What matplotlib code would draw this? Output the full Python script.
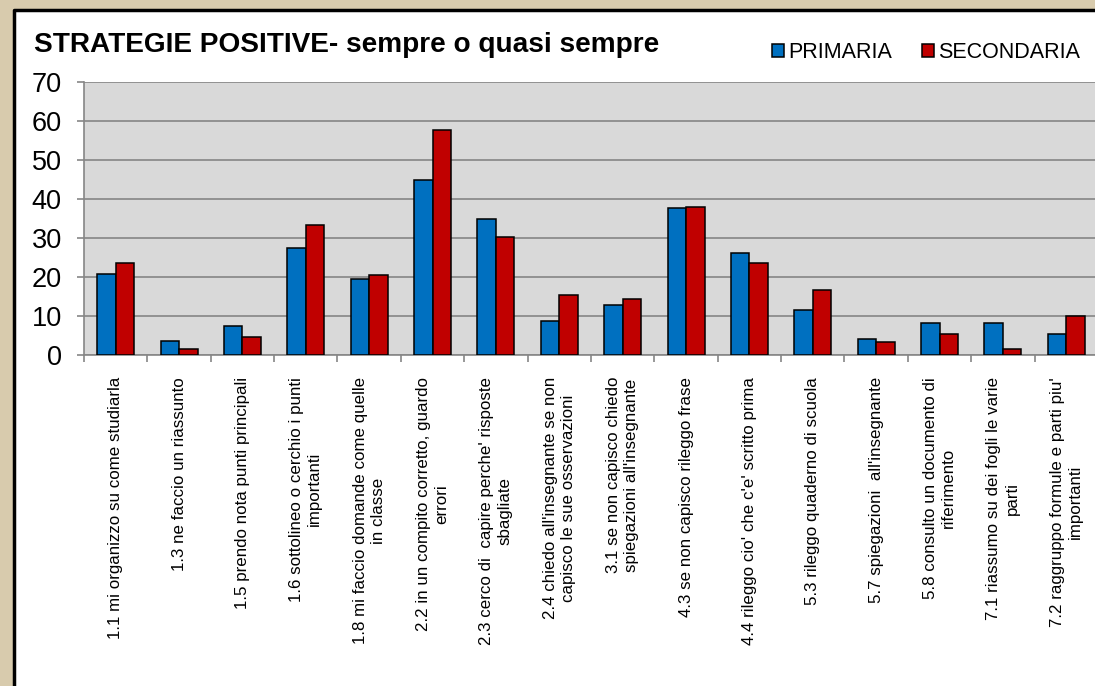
import matplotlib.pyplot as plt
import numpy as np
from matplotlib.patches import Rectangle, Patch
from matplotlib.lines import Line2D

categories = [
    "1.1 mi organizzo su come studiarla",
    "1.3 ne faccio un riassunto",
    "1.5 prendo nota punti principali",
    "1.6 sottolineo o cerchio i punti\nimportanti",
    "1.8 mi faccio domande come quelle\nin classe",
    "2.2 in un compito corretto, guardo\nerrori",
    "2.3 cerco di  capire perche' risposte\nsbagliate",
    "2.4 chiedo all'insegnante se non\ncapisco le sue osservazioni",
    "3.1 se non capisco chiedo\nspiegazioni all'insegnante",
    "4.3 se non capisco rileggo frase",
    "4.4 rileggo cio' che c'e' scritto prima",
    "5.3 rileggo quaderno di scuola",
    "5.7 spiegazioni  all'insegnante",
    "5.8 consulto un documento di\nriferimento",
    "7.1 riassumo su dei fogli le varie\nparti",
    "7.2 raggruppo formule e parti piu'\nimportanti",
]
primaria = [20.8, 3.4, 7.4, 27.4, 19.5, 45.0, 34.9, 8.7, 12.8, 37.7, 26.2, 11.4, 4.0, 8.1, 8.1, 5.4]
secondaria = [23.6, 1.5, 4.5, 33.3, 20.5, 57.7, 30.3, 15.2, 14.4, 38.0, 23.6, 16.7, 3.2, 5.4, 1.5, 9.8]

plt.rcParams['font.family'] = ['Liberation Sans', 'DejaVu Sans']

W, H = 1095, 686
fig = plt.figure(figsize=(W / 100, H / 100), dpi=100)
fig.patch.set_facecolor('#d8cbad')
fig.patch.set_edgecolor('none')
fig.patch.set_linewidth(0)

# white chart panel, black border only on left/top (rest runs off the picture)
fig.add_artist(Rectangle((14 / W, -0.1), 1.2, 1.1 - 10 / H, transform=fig.transFigure,
                         facecolor='white', edgecolor='none', lw=0, zorder=-2))
fig.add_artist(Line2D([14 / W, 14 / W, 1.2], [-0.1, 1 - 10 / H, 1 - 10 / H],
                      transform=fig.transFigure, color='black', lw=2.5, zorder=-1))

ax = fig.add_axes([84 / W, (H - 354.6) / H, 1014 / W, 272.3 / H])
ax.set_facecolor('#d9d9d9')

x = np.arange(len(categories))
w = 0.292
ax.bar(x - w / 2, primaria, w, color='#0070c0', edgecolor='black', lw=1.1, label='PRIMARIA', zorder=3)
ax.bar(x + w / 2, secondaria, w, color='#c00000', edgecolor='black', lw=1.1, label='SECONDARIA', zorder=3)

ax.set_xlim(-0.5, len(categories) - 0.5)
ax.set_ylim(0, 70)
ax.set_yticks(range(0, 71, 10))
ax.grid(axis='y', color='#868686', lw=1.2, zorder=1)
ax.set_axisbelow(True)

for s in ['top', 'right']:
    ax.spines[s].set_visible(False)
for s in ['left', 'bottom']:
    ax.spines[s].set_color('#868686')
    ax.spines[s].set_linewidth(1.2)

ax.tick_params(axis='y', length=5, width=1.2, color='#868686', labelsize=19.5, pad=11)
ax.set_xticks(x)
ax.set_xticklabels(categories, rotation=90, ha='center', va='top',
                   multialignment='center', linespacing=1.25)
ax.tick_params(axis='x', which='major', length=0, labelsize=12.2, pad=16)
ax.set_xticks(np.arange(-0.5, len(categories)), minor=True)
ax.tick_params(axis='x', which='minor', length=5, width=1.2, color='#868686')

fig.text(34 / W, 1 - 45 / H, 'STRATEGIE POSITIVE- sempre o quasi sempre',
         fontsize=20.2, fontweight='bold', ha='left', va='center')

handles = [Patch(facecolor='#0070c0', edgecolor='black', lw=1.1),
           Patch(facecolor='#c00000', edgecolor='black', lw=1.1)]
fig.legend(handles, ['PRIMARIA', 'SECONDARIA'], loc='center left',
           bbox_to_anchor=(772 / W, 1 - 53 / H), ncol=2, frameon=False, fontsize=15.5,
           handlelength=0.56, handleheight=0.56, handletextpad=0.19, columnspacing=1.4,
           borderpad=0, borderaxespad=0)

fig.savefig('out.png', dpi=100)
